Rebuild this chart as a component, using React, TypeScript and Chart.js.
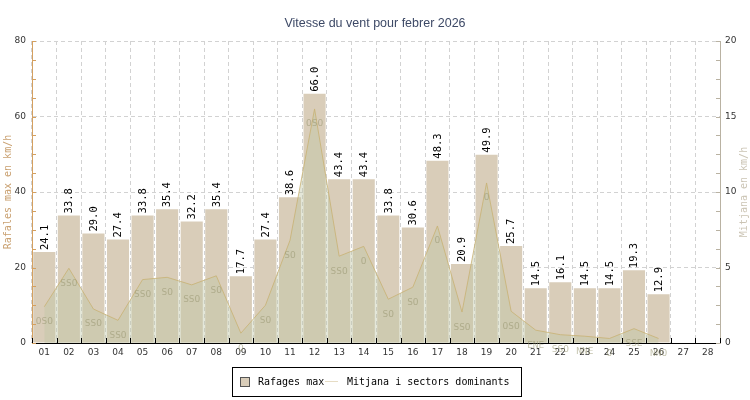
import React, { useEffect, useRef } from "react";
import { Chart, registerables } from "chart.js";

Chart.register(...registerables);

const days = ["01","02","03","04","05","06","07","08","09","10","11","12","13","14","15","16","17","18","19","20","21","22","23","24","25","26","27","28"];
const gusts = [24.1,33.8,29.0,27.4,33.8,35.4,32.2,35.4,17.7,27.4,38.6,66.0,43.4,43.4,33.8,30.6,48.3,20.9,49.9,25.7,14.5,16.1,14.5,14.5,19.3,12.9,null,null];
const means = [2.4,4.95,2.25,1.5,4.2,4.35,3.85,4.45,0.65,2.5,6.8,15.5,5.75,6.4,2.9,3.7,7.75,2.05,10.6,2.1,0.85,0.55,0.45,0.3,0.95,0.3,null,null];
const sectors = ["OSO","SSO","SSO","SSO","SSO","SO","SSO","SO","O","SO","SO","OSO","SSO","O","SO","SO","O","SSO","O","OSO","ENE","SSO","NNE","O","SSE","NNO","",""];
const leftTicks = [0, 20, 40, 60, 80];
const rightTicks = [0, 5, 10, 15, 20];

const TITLE = "Vitesse du vent pour febrer 2026";
const LEFT_TITLE = "Rafales max en km/h";
const RIGHT_TITLE = "Mitjana en km/h";
const LEGEND_BAR = "Rafages max";
const LEGEND_LINE = "Mitjana i sectors dominants";

const BAR_COLOR = "#d9cdb9";
const FILL_COLOR = "rgba(190,197,165,0.42)";
const LINE_COLOR = "rgba(200,178,115,0.8)";
const SECTOR_COLOR = "rgba(150,148,110,0.55)";
const LEFT_COLOR = "#d4a060";
const LEFT_TITLE_COLOR = "#c9a070";
const RIGHT_COLOR = "#b9b2a2";
const RIGHT_TITLE_COLOR = "#cbc4b4";
const GRID_COLOR = "#d2d2d2";
const MONO = "'DejaVu Sans Mono', monospace";
const SANS = "'DejaVu Sans', sans-serif";

const overlay = {
  id: "overlay",
  afterDatasetsDraw(chart: any) {
    const ctx = chart.ctx;
    const { left, right, bottom } = chart.chartArea;
    const xs = chart.scales.x;
    const ys = chart.scales.y;
    const y1 = chart.scales.y1;
    ctx.save();
    ctx.lineWidth = 1;
    ctx.strokeStyle = LEFT_COLOR;
    for (let v = 0; v <= 80; v += 5) {
      const py = Math.round(ys.getPixelForValue(v)) + 0.5;
      ctx.beginPath();
      ctx.moveTo(left, py);
      ctx.lineTo(left + 4, py);
      ctx.stroke();
    }
    ctx.strokeStyle = RIGHT_COLOR;
    for (let v = 0; v <= 20; v += 1.25) {
      const py = Math.round(y1.getPixelForValue(v)) + 0.5;
      ctx.beginPath();
      ctx.moveTo(right - 4, py);
      ctx.lineTo(right, py);
      ctx.stroke();
    }
    ctx.strokeStyle = "#000";
    const half = (xs.getPixelForValue(1) - xs.getPixelForValue(0)) / 2;
    for (let i = 0; i <= days.length; i++) {
      const px = Math.round(xs.getPixelForValue(i) - half) + 0.5;
      ctx.beginPath();
      ctx.moveTo(px, bottom - 5);
      ctx.lineTo(px, bottom);
      ctx.stroke();
    }
    const lineMeta = chart.getDatasetMeta(1);
    ctx.fillStyle = SECTOR_COLOR;
    ctx.font = `9.5px ${MONO}`;
    ctx.textAlign = "center";
    ctx.textBaseline = "middle";
    lineMeta.data.forEach((el: any, i: number) => {
      if (means[i] == null || !sectors[i]) return;
      ctx.fillText(sectors[i], el.x, el.y + 15);
    });
    const barMeta = chart.getDatasetMeta(0);
    ctx.fillStyle = "#000";
    ctx.font = `10.5px ${MONO}`;
    barMeta.data.forEach((el: any, i: number) => {
      const v = gusts[i];
      if (v == null) return;
      ctx.save();
      ctx.translate(el.x + 0.5, el.y - 2);
      ctx.rotate(-Math.PI / 2);
      ctx.textAlign = "left";
      ctx.textBaseline = "middle";
      ctx.fillText(v.toFixed(1), 0, 0);
      ctx.restore();
    });
    ctx.restore();
  },
  afterDraw(chart: any) {
    const ctx = chart.ctx;
    const { top, bottom } = chart.chartArea;
    ctx.save();
    ctx.fillStyle = "#3d4966";
    ctx.font = `12.5px 'Liberation Sans', sans-serif`;
    ctx.textAlign = "center";
    ctx.textBaseline = "middle";
    ctx.fillText(TITLE, 375, 24);
    ctx.font = `10px ${MONO}`;
    ctx.fillStyle = LEFT_TITLE_COLOR;
    ctx.save();
    ctx.translate(8, (top + bottom) / 2);
    ctx.rotate(-Math.PI / 2);
    ctx.fillText(LEFT_TITLE, 0, 0);
    ctx.restore();
    ctx.fillStyle = RIGHT_TITLE_COLOR;
    ctx.save();
    ctx.translate(744, (top + bottom) / 2);
    ctx.rotate(-Math.PI / 2);
    ctx.fillText(RIGHT_TITLE, 0, 0);
    ctx.restore();
    ctx.strokeStyle = "#000";
    ctx.lineWidth = 1;
    ctx.strokeRect(232.5, 367.5, 289, 29);
    ctx.fillStyle = BAR_COLOR;
    ctx.fillRect(240, 377, 10, 10);
    ctx.strokeStyle = "#555";
    ctx.strokeRect(240.5, 377.5, 9, 9);
    ctx.fillStyle = "#000";
    ctx.font = `10px ${MONO}`;
    ctx.textAlign = "left";
    ctx.fillText(LEGEND_BAR, 258, 382);
    ctx.strokeStyle = "#e6dcc4";
    ctx.beginPath();
    ctx.moveTo(325, 381.5);
    ctx.lineTo(338, 381.5);
    ctx.stroke();
    ctx.fillText(LEGEND_LINE, 347, 382);
    ctx.restore();
  },
};

export default function App() {
  const ref = useRef<HTMLCanvasElement | null>(null);
  useEffect(() => {
    document.body.style.margin = "0";
    const canvas = ref.current!;
    const chart = new Chart(canvas, {
      data: {
        labels: days,
        datasets: [
          {
            type: "bar",
            label: LEGEND_BAR,
            data: gusts,
            backgroundColor: BAR_COLOR,
            borderWidth: 0,
            barPercentage: 0.9,
            categoryPercentage: 1,
            yAxisID: "y",
            order: 1,
          },
          {
            type: "line",
            label: LEGEND_LINE,
            data: means,
            borderColor: LINE_COLOR,
            borderWidth: 1,
            backgroundColor: FILL_COLOR,
            fill: "origin",
            pointRadius: 0,
            tension: 0,
            spanGaps: false,
            yAxisID: "y1",
            order: 0,
          },
        ],
      } as any,
      options: {
        responsive: false,
        animation: false,
        layout: { padding: { top: 41, bottom: 37, left: 0, right: 0 } },
        plugins: {
          legend: { display: false },
          title: { display: false },
          tooltip: { enabled: false },
        },
        scales: {
          x: {
            type: "category",
            offset: true,
            afterFit: (s: any) => { s.height = 20; },
            grid: { color: GRID_COLOR, drawTicks: false, offset: true },
            border: { color: "#000", dash: [4, 3] },
            ticks: { font: { size: 9, family: SANS }, color: "#333", padding: 4, autoSkip: false, maxRotation: 0 },
          },
          y: {
            position: "left",
            min: 0,
            max: 80,
            afterFit: (s: any) => { s.width = 32; },
            afterBuildTicks: (s: any) => { s.ticks = leftTicks.map((v) => ({ value: v })); },
            grid: { color: GRID_COLOR, drawTicks: false },
            border: { color: LEFT_COLOR, dash: [4, 3] },
            ticks: { font: { size: 9, family: SANS }, color: "#333", padding: 6 },
          },
          y1: {
            position: "right",
            min: 0,
            max: 20,
            afterFit: (s: any) => { s.width = 30; },
            afterBuildTicks: (s: any) => { s.ticks = rightTicks.map((v) => ({ value: v })); },
            grid: { drawOnChartArea: false, drawTicks: false },
            border: { color: RIGHT_COLOR },
            ticks: { font: { size: 9, family: SANS }, color: "#333", padding: 5 },
          },
        },
      } as any,
      plugins: [overlay],
    });
    return () => chart.destroy();
  }, []);
  return (
    <div style={{ width: 750, height: 400, background: "#fff" }}>
      <canvas ref={ref} width={750} height={400} style={{ display: "block" }} />
    </div>
  );
}
